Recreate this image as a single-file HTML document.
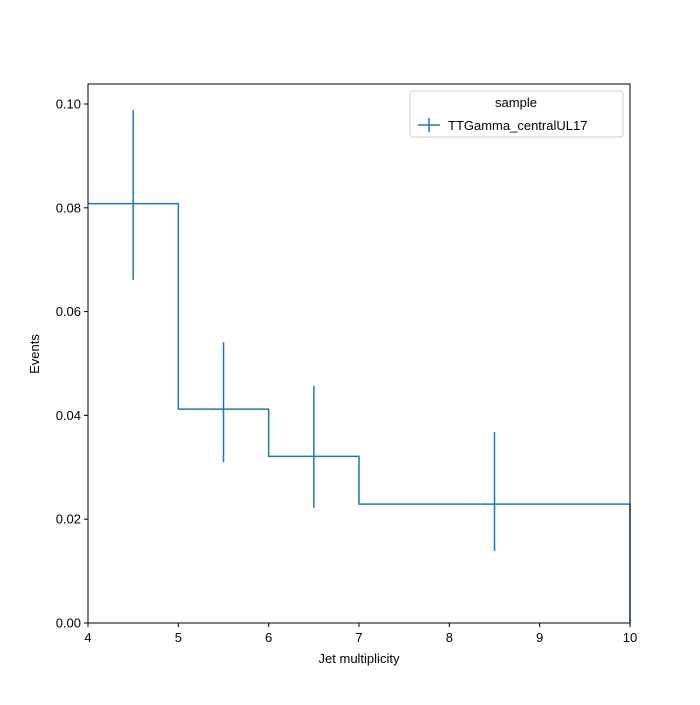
<!DOCTYPE html>
<html><head><meta charset="utf-8"><style>body{margin:0;background:#fff}svg{font-family:"Liberation Sans","DejaVu Sans",sans-serif}</style></head>
<body>
<svg id="chart" width="700" height="700" viewBox="0 0 700 700" xmlns="http://www.w3.org/2000/svg">
<rect x="0" y="0" width="700" height="700" fill="#fff"/>
<g id="plot"></g>
<rect x="88" y="84" width="542" height="539" fill="none" stroke="#000" stroke-width="1"/>
<g id="xt"></g>
<g id="yt"></g>
<text x="359" y="663" font-size="13" text-anchor="middle">Jet multiplicity</text>
<text transform="translate(39,354) rotate(-90)" font-size="13" text-anchor="middle">Events</text>
<g>
<rect x="410" y="91" width="213" height="46" rx="3" fill="#fff" stroke="#ccc"/>
<text x="516" y="107" font-size="13" text-anchor="middle">sample</text>
<g>
<line x1="418" y1="125" x2="440" y2="125" stroke="#1f77b4" stroke-width="1.5"/>
<line x1="429" y1="118" x2="429" y2="132" stroke="#1f77b4" stroke-width="1.5"/>
<text x="448" y="130" font-size="13">TTGamma_centralUL17</text>
</g></g>
</svg>
<script>
const binEdges=[4,5,6,7,10];
const values=[0.0808,0.0412,0.0321,0.0229];
const errHi=[0.0988,0.0541,0.0457,0.0368];
const errLo=[0.0661,0.0310,0.0222,0.0139];
const xTicks=[4,5,6,7,8,9,10];
const yTicks=[0,0.02,0.04,0.06,0.08,0.10];
const yTickLabels=["0.00","0.02","0.04","0.06","0.08","0.10"];
const X=v=>88+(v-4)*(542/6);
const Y=v=>623-v*5190;
const NS="http://www.w3.org/2000/svg";
function mk(t,a,p){const e=document.createElementNS(NS,t);for(const k in a)e.setAttribute(k,a[k]);p.appendChild(e);return e;}
const plot=document.getElementById('plot');
let d="M"+X(binEdges[0])+","+Y(values[0]);
for(let i=0;i<values.length;i++){d+=" L"+X(binEdges[i])+","+Y(values[i])+" L"+X(binEdges[i+1])+","+Y(values[i]);}
d+=" L"+X(binEdges[binEdges.length-1])+","+Y(0);
const st=mk('path',{d:d,fill:'none',stroke:'#1f77b4','stroke-width':1.5},plot);


for(let i=0;i<values.length;i++){
 const c=(binEdges[i]+binEdges[i+1])/2;
 const e=mk('line',{x1:X(c),x2:X(c),y1:Y(errHi[i]),y2:Y(errLo[i]),stroke:'#1f77b4','stroke-width':1.5},plot);
 
 
}
const xt=document.getElementById('xt');
xTicks.forEach(v=>{mk('line',{x1:X(v),x2:X(v),y1:623,y2:627,stroke:'#000'},xt);
 const t=mk('text',{x:X(v),y:642,'font-size':13,'text-anchor':'middle'},xt);t.textContent=v;
 
 });
const yt=document.getElementById('yt');
yTicks.forEach((v,i)=>{mk('line',{x1:84,x2:88,y1:Y(v),y2:Y(v),stroke:'#000'},yt);
 const t=mk('text',{x:81,y:Y(v)+4.5,'font-size':13,'text-anchor':'end'},yt);t.textContent=yTickLabels[i];
 
 });
</script>
</body></html>
